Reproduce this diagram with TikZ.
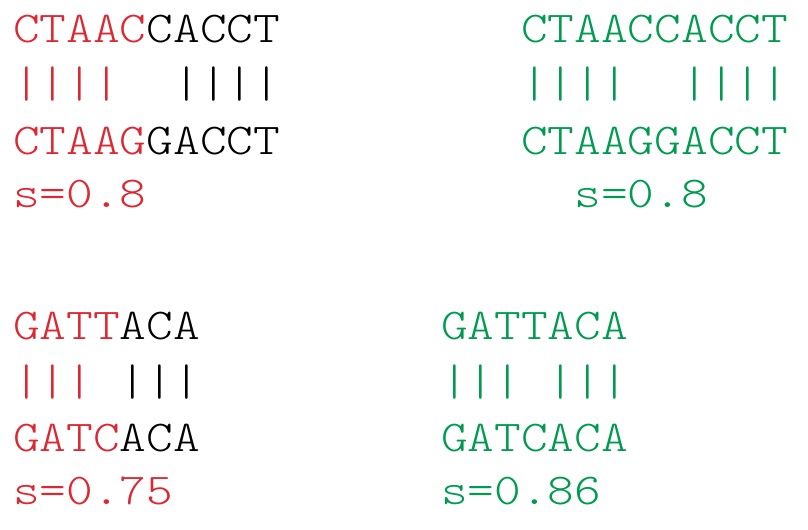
\documentclass[tikz,border=0pt]{standalone}
\usepackage{fontspec}
\setmonofont{Latin Modern Mono Light}[FakeStretch=1.155]
\definecolor{myred}{RGB}{220,40,50}
\definecolor{mygreen}{RGB}{0,155,80}
\tikzset{
  seq/.style={anchor=base west, inner sep=0pt, font=\ttfamily\fontsize{33}{33}\selectfont},
}
\begin{document}
\begin{tikzpicture}[x=0.75pt,y=-0.75pt]
\useasboundingbox (0,0) rectangle (808,530);
% top left
\node[seq] (a1) at (13,43) {{\color{myred}CTAAC}CACCT};
\node[seq] (a2) at (13,98) {{\color{myred}||||}\ \ ||||};
\node[seq] (a3) at (13,155) {{\color{myred}CTAAG}GACCT};
\node[seq,myred] (a4) at (13,208) {s=0.8};
% top right
\node[seq,mygreen] (b1) at (521,43) {CTAACCACCT};
\node[seq,mygreen] (b2) at (521,98) {||||\ \ ||||};
\node[seq,mygreen] (b3) at (521,155) {CTAAGGACCT};
\node[seq,mygreen] (b4) at (521,208) {\ \ s=0.8};
% bottom left
\node[seq] (c1) at (13,340) {{\color{myred}GATT}ACA};
\node[seq] (c2) at (13,396) {{\color{myred}|||}\ |||};
\node[seq] (c3) at (13,452) {{\color{myred}GATC}ACA};
\node[seq,myred] (c4) at (13,505) {s=0.75};
% bottom right
\node[seq,mygreen] (d1) at (441,340) {GATTACA};
\node[seq,mygreen] (d2) at (441,396) {|||\ |||};
\node[seq,mygreen] (d3) at (441,452) {GATCACA};
\node[seq,mygreen] (d4) at (441,505) {s=0.86};
\end{tikzpicture}
\end{document}
